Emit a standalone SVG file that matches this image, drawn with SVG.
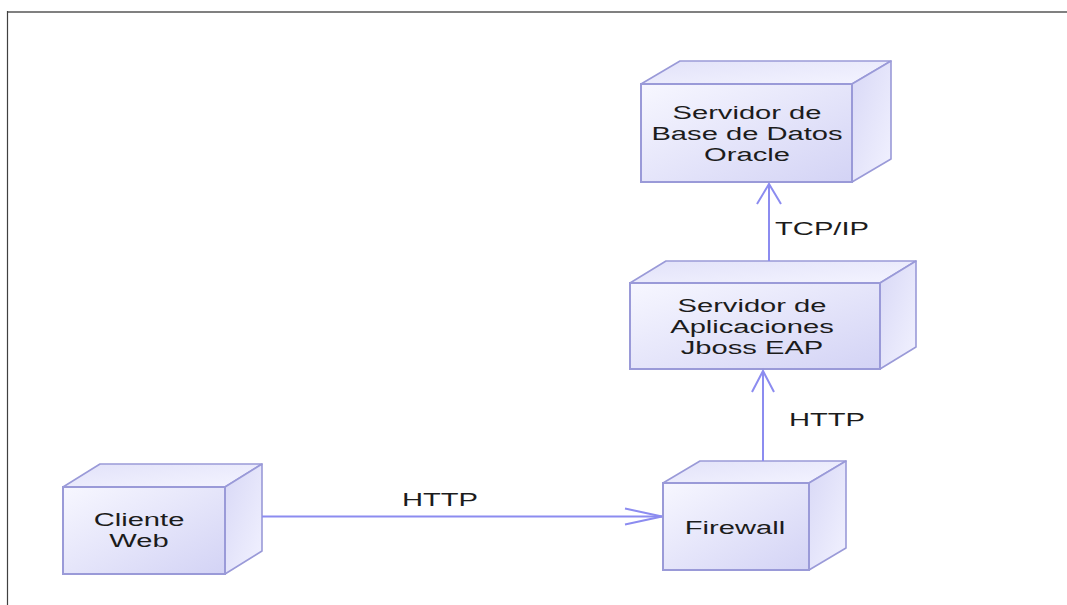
<svg xmlns="http://www.w3.org/2000/svg" width="1067" height="605" viewBox="0 0 1067 605">
<defs>
<linearGradient id="gFront" x1="0" y1="0" x2="1" y2="1">
<stop offset="0" stop-color="#f7f7ff"/>
<stop offset="1" stop-color="#d3d3f5"/>
</linearGradient>
<linearGradient id="gTop" x1="0" y1="0" x2="1" y2="1">
<stop offset="0" stop-color="#e2e2f9"/>
<stop offset="1" stop-color="#f4f4ff"/>
</linearGradient>
<linearGradient id="gSide" x1="0" y1="0" x2="1" y2="1">
<stop offset="0" stop-color="#d8d8f6"/>
<stop offset="1" stop-color="#f2f2ff"/>
</linearGradient>
</defs>
<style>
.front{fill:url(#gFront);stroke:#9a9ad8;stroke-width:2}
.top{fill:url(#gTop);stroke:#9a9ad8;stroke-width:1.6;stroke-linejoin:round}
.side{fill:url(#gSide);stroke:#9a9ad8;stroke-width:1.6;stroke-linejoin:round}
.t{font-family:"Liberation Sans",Arial,sans-serif;font-size:18px;fill:#1c1c1c;text-anchor:middle}
.edge{fill:none;stroke:#8c8cf0;stroke-width:2}
.head{fill:none;stroke:#8c8cf0;stroke-width:2;stroke-linejoin:miter}
</style>
<rect width="1067" height="605" fill="#ffffff"/>
<line x1="7" y1="12" x2="1067" y2="12" stroke="#808080" stroke-width="2"/>
<line x1="7.5" y1="11" x2="7.5" y2="605" stroke="#404040" stroke-width="1.2"/>

<g id="node-db">
<polygon class="top" points="641,84 680,61 891,61 852,84"/>
<polygon class="side" points="852,84 891,61 891,159 852,182"/>
<rect class="front" x="641" y="84" width="211" height="98"/>
<text class="t" transform="translate(747,0) scale(1.62,1)"><tspan x="0" y="119">Servidor de</tspan><tspan x="0" y="140">Base de Datos</tspan><tspan x="0" y="161">Oracle</tspan></text>
</g>

<g id="node-app">
<polygon class="top" points="630,283 666,261 916,261 880,283"/>
<polygon class="side" points="880,283 916,261 916,347 880,369"/>
<rect class="front" x="630" y="283" width="250" height="86"/>
<text class="t" transform="translate(752,0) scale(1.62,1)"><tspan x="0" y="312">Servidor de</tspan><tspan x="0" y="333">Aplicaciones</tspan><tspan x="0" y="354">Jboss EAP</tspan></text>
</g>

<g id="node-cliente">
<polygon class="top" points="63,487 100,464 262,464 225,487"/>
<polygon class="side" points="225,487 262,464 262,551 225,574"/>
<rect class="front" x="63" y="487" width="162" height="87"/>
<text class="t" transform="translate(139,0) scale(1.62,1)"><tspan x="0" y="526">Cliente</tspan><tspan x="0" y="547">Web</tspan></text>
</g>

<g id="node-firewall">
<polygon class="top" points="663,483 700,461 846,461 809,483"/>
<polygon class="side" points="809,483 846,461 846,548 809,570"/>
<rect class="front" x="663" y="483" width="146" height="87"/>
<text class="t" transform="translate(735,0) scale(1.62,1)"><tspan x="0" y="534">Firewall</tspan></text>
</g>

<g id="connectors">
<g id="edge-cliente-firewall">
<line class="edge" x1="262" y1="516.5" x2="662" y2="516.5"/>
<polyline class="head" points="625,508.5 662,516.5 625,524.5"/>
<text class="t" transform="translate(440,0) scale(1.62,1)"><tspan x="0" y="506">HTTP</tspan></text>
</g>
<g id="edge-firewall-app">
<line class="edge" x1="763" y1="461" x2="763" y2="371"/>
<polyline class="head" points="752,392 763,371 774,392"/>
<text class="t" transform="translate(827,0) scale(1.62,1)"><tspan x="0" y="426">HTTP</tspan></text>
</g>
<g id="edge-app-db">
<line class="edge" x1="769" y1="261" x2="769" y2="184"/>
<polyline class="head" points="757,204 769,184 781,204"/>
<text class="t" transform="translate(822,0) scale(1.62,1)"><tspan x="0" y="235">TCP/IP</tspan></text>
</g>
</g>
</svg>
